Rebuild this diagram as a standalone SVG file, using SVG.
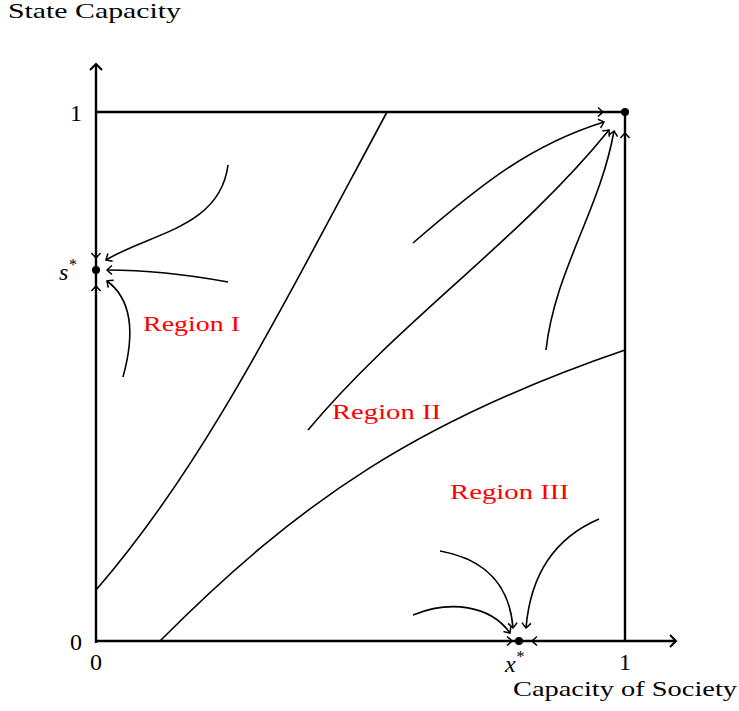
<svg xmlns="http://www.w3.org/2000/svg" width="739" height="711" viewBox="0 0 739 711">
<style>
.ax{stroke:#000;stroke-width:2.4;fill:none}
.cv{stroke:#000;stroke-width:1.6;fill:none}
.tr{stroke:#000;stroke-width:1.6;fill:none;marker-end:url(#to)}
.t{font-family:"Liberation Serif",serif;font-size:21px;fill:#000}
.r{font-family:"Liberation Serif",serif;font-size:21px;fill:#f00}
.m{font-family:"Liberation Serif",serif;font-size:24px;fill:#000}
</style>
<defs>
<marker id="to" markerUnits="userSpaceOnUse" markerWidth="14" markerHeight="14" refX="7" refY="7" orient="auto" viewBox="0 0 14 14">
<path d="M2,2.5 Q5.5,5.5 7,7 Q5.5,8.5 2,11.5" fill="none" stroke="#000" stroke-width="1.5"/>
</marker>
<marker id="ah" markerUnits="userSpaceOnUse" markerWidth="16" markerHeight="16" refX="8" refY="8" orient="auto" viewBox="0 0 16 16">
<path d="M2,2 Q6,6 8,8 Q6,10 2,14" fill="none" stroke="#000" stroke-width="2"/>
</marker>
</defs>
<g id="axes">
<path class="ax" d="M96,643 V64" marker-end="url(#ah)"/>
<path class="ax" d="M95,641 H676" marker-end="url(#ah)"/>
<path class="ax" d="M96,112 H625 V641"/>
</g>
<g id="boundaries">
<path class="cv" d="M96,590 C200,470 270,330 387,112"/>
<path class="cv" d="M160,641 C300,500 420,420 625,350"/>
</g>
<g id="connectors">
<path class="tr" d="M228,165 C220,228 150,233 106,260"/>
<path class="tr" d="M228,282 C190,275 150,270 107,270"/>
<path class="tr" d="M123,377 C136,330 130,298 107,281"/>
<path class="tr" d="M413,243 C480,185 530,145 604,122"/>
<path class="tr" d="M308,430 C400,320 520,240 609,130"/>
<path class="tr" d="M546,350 C555,270 600,210 614,131"/>
<path class="tr" d="M413,615 C450,600 490,605 510,633"/>
<path class="tr" d="M440,551 C490,560 510,590 513,628"/>
<path class="tr" d="M599,519 C550,540 530,580 526,628"/>
<path class="tr" d="M590,112 H603"/>
<path class="tr" d="M625,148 V133"/>
<path class="tr" d="M500,641 H512"/>
<path class="tr" d="M545,641 H532"/>
<path class="tr" d="M96,245 V258"/>
<path class="tr" d="M96,298 V286"/>
</g>
<g id="dots">
<circle cx="625" cy="112" r="4"/>
<circle cx="96" cy="270" r="4"/>
<circle cx="519" cy="641" r="4"/>
</g>
<g id="labels">
<text class="t" x="8" y="18" textLength="173" lengthAdjust="spacingAndGlyphs">State Capacity</text>
<text class="t" x="513" y="696" textLength="224" lengthAdjust="spacingAndGlyphs">Capacity of Society</text>
<text class="m" x="70" y="121">1</text>
<text class="m" x="70" y="650">0</text>
<text class="m" x="96" y="670" text-anchor="middle">0</text>
<text class="m" x="625" y="670" text-anchor="middle">1</text>
<text class="m" x="59" y="280" font-style="italic">s<tspan font-size="16" dy="-10">*</tspan></text>
<text class="m" x="505" y="672" font-style="italic">x<tspan font-size="16" dy="-10">*</tspan></text>
<text class="r" x="143" y="331" textLength="97" lengthAdjust="spacingAndGlyphs">Region I</text>
<text class="r" x="332" y="419" textLength="109" lengthAdjust="spacingAndGlyphs">Region II</text>
<text class="r" x="450" y="499" textLength="119" lengthAdjust="spacingAndGlyphs">Region III</text>
</g>
</svg>
